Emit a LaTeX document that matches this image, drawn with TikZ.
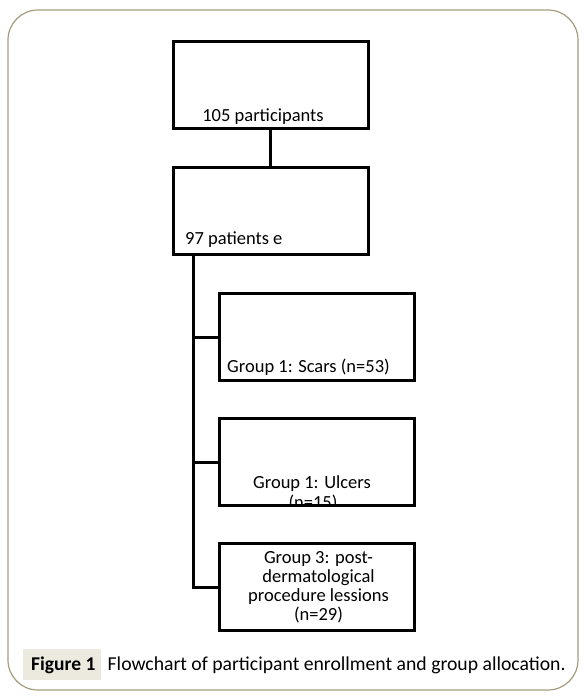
\documentclass[tikz,border=0pt]{standalone}
\usepackage{fontspec}
\setmainfont{Carlito}
\definecolor{framecol}{HTML}{A39D7C}
\definecolor{capbg}{HTML}{ECEADF}
\begin{document}
\begin{tikzpicture}[x=1pt,y=-1pt,
  box/.style={draw=black,line width=3pt,minimum width=195pt,minimum height=87pt,inner sep=0pt},
  conn/.style={draw=black,line width=3pt},
  txt/.style={font=\fontsize{18.5}{20}\selectfont,inner sep=0pt,anchor=base},
  every node/.style={inner sep=0pt}]
\useasboundingbox (0,0) rectangle (586,699);
\fill[white] (0,0) rectangle (586,699);
\draw[framecol,line width=1.2pt,rounded corners=30pt] (8,10) rectangle (578,690);
% boxes
\node[box] (b1) at (270.5,85) {};
\node[box] (b2) at (270.5,211) {};
\node[box] (b3) at (317,337) {};
\node[box] (b4) at (317,462) {};
\node[box] (b5) at (317,587) {};
% texts
\node[txt] (t1) at (263,121) {105 participants};
\node[txt,anchor=base west] (t2) at (185,244) {97 patients e};
\node[txt] (t3) at (308.5,372) {Group 1: Scars (n=53)};
\node[txt] (t4a) at (312,488) {Group 1: Ulcers};
\begin{scope}
\clip (219,417) rectangle (415,506);
\node[txt] (t4b) at (313,508) {(n=15)};
\end{scope}
\node[box] at (317,462) {};
\node[txt,align=center,font=\fontsize{18.5}{19}\selectfont,anchor=center] (t5) at (318.5,587) {Group 3: post-\\dermatological\\procedure lessions\\(n=29)};
% connectors
\coordinate (spineTop) at (193,255);
\coordinate (j3) at (193,337);
\coordinate (j4) at (193,462);
\coordinate (j5) at (193,587);
\draw[conn] (b1.south -| 270,0) -- (b2.north -| 270,0);
\draw[conn] (b2.south -| spineTop) -- (j5) -- (b5.west);
\draw[conn] (j3) -- (b3.west);
\draw[conn] (j4) -- (b4.west);
% caption
\node[fill=capbg,minimum width=78pt,minimum height=31pt,anchor=west] (capbox) at (23,664) {};
\node[font=\fontsize{19.5}{21}\selectfont\bfseries,anchor=base west] (fig) at (31,670) {Figure 1};
\node[font=\fontsize{19.7}{21}\selectfont,anchor=base west] (cap) at (107.5,670) {Flowchart of participant enrollment and group allocation.};
\end{tikzpicture}
\end{document}
